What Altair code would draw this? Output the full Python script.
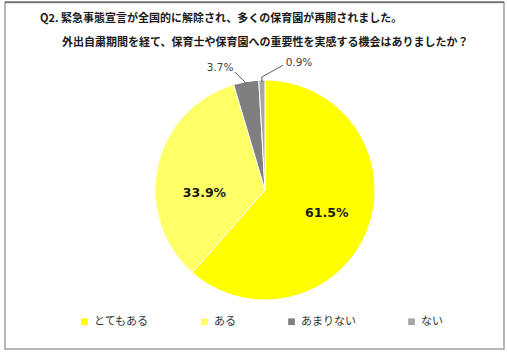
import altair as alt
import pandas as pd

categories = ["とてもある", "ある", "あまりない", "ない"]
values = [61.5, 33.9, 3.7, 0.9]
labels = ["61.5%", "33.9%", "3.7%", "0.9%"]
colors = ["#FFFF00", "#FFFF66", "#7F7F7F", "#A6A6A6"]
title_lines = [
    "Q2. 緊急事態宣言が全国的に解除され、多くの保育園が再開されました。",
    "外出自粛期間を経て、保育士や保育園への重要性を実感する機会はありましたか？",
]

df = pd.DataFrame({"cat": categories, "value": values, "label": labels, "order": list(range(len(categories)))})
tdf = pd.DataFrame({"t": title_lines, "line": [0, 1]})
dummy = pd.DataFrame({"a": [0]})

CX, CY, R = 265, 190, 110
JP = "Noto Sans CJK JP"
NUM = "DejaVu Sans"

base = alt.Chart(df)

pie = base.mark_arc(outerRadius=R, stroke="white", strokeWidth=1).encode(
    theta=alt.Theta("value:Q", stack=True),
    order=alt.Order("order:Q"),
    color=alt.Color(
        "cat:N",
        scale=alt.Scale(domain=categories, range=colors),
        sort=categories,
        legend=alt.Legend(
            title=None, orient="none", legendX=79, legendY=316, direction="horizontal",
            symbolType="square", symbolSize=45, symbolStrokeWidth=0,
            labelFont=JP, labelFontSize=11, labelColor="#333333", columnPadding=50,
            labelOffset=4,
        ),
    ),
    x=alt.value(CX),
    y=alt.value(CY),
)

angles = base.transform_window(
    cum="sum(value)", sort=[alt.SortField("order")], frame=[None, 0]
).transform_joinaggregate(total="sum(value)").transform_calculate(
    mid="(datum.cum - datum.value/2)/datum.total*2*PI"
)


def polar(chart, name, r, off):
    return chart.transform_calculate(
        **{
            name + "x": f"{CX} + {r}*sin(datum.mid + ({off})*PI/180)",
            name + "y": f"{CY} - {r}*cos(datum.mid + ({off})*PI/180)",
        }
    )


def xy(name):
    return dict(
        x=alt.X(name + "x:Q", scale=None, axis=None),
        y=alt.Y(name + "y:Q", scale=None, axis=None),
    )


big1 = polar(angles.transform_filter(alt.datum.order == 0), "a", 66, 0).mark_text(
    font=NUM, fontSize=12.5, fontWeight="bold", color="#1a1a1a"
).encode(text="label:N", **xy("a"))

big2 = polar(angles.transform_filter(alt.datum.order == 1), "b", 62, 0).mark_text(
    font=NUM, fontSize=12.5, fontWeight="bold", color="#1a1a1a", dy=16
).encode(text="label:N", **xy("b"))

out1 = polar(angles.transform_filter(alt.datum.order == 2), "c", 130, -10.3).mark_text(
    font=NUM, fontSize=10.5, color="#404040"
).encode(text="label:N", **xy("c"))

out2 = polar(angles.transform_filter(alt.datum.order == 3), "d", 131.5, 16.6).mark_text(
    font=NUM, fontSize=10.5, color="#404040"
).encode(text="label:N", **xy("d"))

lead1 = polar(polar(angles.transform_filter(alt.datum.order == 2), "e", 108, 0), "f", 121.7, -4.4).mark_rule(
    color="#595959", strokeWidth=1
).encode(
    x=alt.X("ex:Q", scale=None, axis=None), y=alt.Y("ey:Q", scale=None, axis=None),
    x2="fx:Q", y2="fy:Q",
)

lead2a = polar(polar(angles.transform_filter(alt.datum.order == 3), "g", 108, 0), "h", 113, 0).mark_rule(
    color="#595959", strokeWidth=1
).encode(
    x=alt.X("gx:Q", scale=None, axis=None), y=alt.Y("gy:Q", scale=None, axis=None),
    x2="hx:Q", y2="hy:Q",
)

lead2b = polar(polar(angles.transform_filter(alt.datum.order == 3), "i", 113, 0), "j", 126, 9.8).mark_rule(
    color="#595959", strokeWidth=1
).encode(
    x=alt.X("ix:Q", scale=None, axis=None), y=alt.Y("iy:Q", scale=None, axis=None),
    x2="jx:Q", y2="jy:Q",
)

t1 = alt.Chart(tdf).transform_filter(alt.datum.line == 0).mark_text(
    font=JP, fontSize=11, fontWeight="bold", align="left", baseline="middle", color="#1a1a1a"
).encode(text="t:N", x=alt.value(40), y=alt.value(19))

t2 = alt.Chart(tdf).transform_filter(alt.datum.line == 1).mark_text(
    font=JP, fontSize=11, fontWeight="bold", align="left", baseline="middle", color="#1a1a1a"
).encode(text="t:N", x=alt.value(62), y=alt.value(43))

border = alt.Chart(dummy).mark_rect(fillOpacity=0, stroke="#a0a0a0", strokeWidth=1.5).encode(
    x=alt.value(5), x2=alt.value(504), y=alt.value(2.5), y2=alt.value(349)
)
topline = alt.Chart(dummy).mark_rule(color="#404040", strokeWidth=1).encode(
    x=alt.value(5), x2=alt.value(504), y=alt.value(2)
)

chart = alt.layer(
    border, topline, pie, lead1, lead2a, lead2b, big1, big2, out1, out2, t1, t2
).properties(
    width=507, height=353, autosize=alt.AutoSizeParams(type="none"), padding=0
).configure_view(stroke=None)

chart.save("out.html", embed_options={"renderer": "svg", "actions": False})
